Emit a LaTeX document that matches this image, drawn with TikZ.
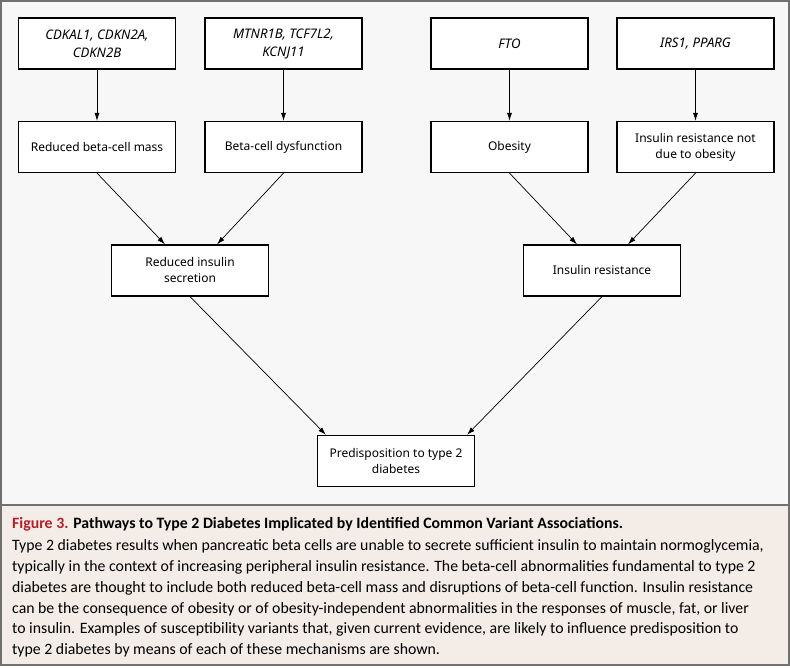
\documentclass[tikz,border=0pt]{standalone}
\usepackage{fontspec}
\setmainfont{Noto Sans}
\newfontfamily\capfont{Carlito}
\usetikzlibrary{arrows.meta}
\definecolor{panelgray}{HTML}{F7F7F7}
\definecolor{capbg}{HTML}{F3ECE7}
\definecolor{framegray}{HTML}{707070}
\definecolor{figred}{HTML}{B3202A}

\begin{document}
\begin{tikzpicture}[x=1pt, y=-1pt,
    box/.style={draw, line width=1.2pt, fill=white, minimum width=157pt, minimum height=51pt,
        inner sep=0pt, align=center, font=\fontsize{12}{16}\selectfont},
    gene/.style={box, font=\fontsize{13.2}{18}\selectfont\itshape},
    link/.style={-{Latex[length=8pt,width=5pt]}, line width=0.7pt}]
    \useasboundingbox (0,0) rectangle (790,668);
    \fill[panelgray] (1,1) rectangle (789,505);
    \fill[capbg] (1,505) rectangle (789,665);
    \draw[framegray, line width=1.2pt] (1,1) rectangle (789,665);
    \draw[framegray, line width=1.2pt] (1,505) -- (789,505);
    % gene boxes
    \node[gene] (cdk) at (97,43.5) {CDKAL1, CDKN2A,\\CDKN2B};
    \node[gene] (mtn) at (283.5,43.5) {MTNR1B, TCF7L2,\\KCNJ11};
    \node[gene] (fto) at (509.5,43.5) {FTO};
    \node[gene] (irs) at (695.5,43.5) {IRS1, PPARG};
    % mechanisms
    \node[box] (mass) at (97,147) {Reduced beta-cell mass};
    \node[box] (dysf) at (283.5,147) {Beta-cell dysfunction};
    \node[box] (obes) at (509.5,147) {Obesity};
    \node[box] (irno) at (695.5,147) {Insulin resistance not\\due to obesity};
    \node[box] (secr) at (190,270.5) {Reduced insulin\\secretion};
    \node[box] (ires) at (602,270.5) {Insulin resistance};
    \node[box] (pred) at (396,461) {Predisposition to type 2\\diabetes};
    % arrows
    \draw[link] (cdk) -- (mass);
    \draw[link] (mtn) -- (dysf);
    \draw[link] (fto) -- (obes);
    \draw[link] (irs) -- (irno);
    \draw[link] (mass.south) -- ([xshift=-25pt]secr.north);
    \draw[link] (dysf.south) -- ([xshift=27pt]secr.north);
    \draw[link] (obes.south) -- ([xshift=-25pt]ires.north);
    \draw[link] (irno.south) -- ([xshift=26pt]ires.north);
    \draw[link] (secr.south) -- ([xshift=-70pt]pred.north);
    \draw[link] (ires.south) -- ([xshift=71pt]pred.north);
    % caption
    \node[anchor=north west, inner sep=0pt, align=left,
        font=\capfont\fontsize{15.8}{20.8}\selectfont] (cap) at (12,517)
        {{\bfseries\textcolor{figred}{Figure 3.} Pathways to Type 2 Diabetes Implicated by Identified Common Variant Associations.}\\[1.5pt]
        Type 2 diabetes results when pancreatic beta cells are unable to secrete sufficient insulin to maintain normoglycemia,\\
        typically in the context of increasing peripheral insulin resistance. The beta-cell abnormalities fundamental to type 2\\
        diabetes are thought to include both reduced beta-cell mass and disruptions of beta-cell function. Insulin resistance\\
        can be the consequence of obesity or of obesity-independent abnormalities in the responses of muscle, fat, or liver\\
        to insulin. Examples of susceptibility variants that, given current evidence, are likely to influence predisposition to\\
        type 2 diabetes by means of each of these mechanisms are shown.};
\end{tikzpicture}
\end{document}
